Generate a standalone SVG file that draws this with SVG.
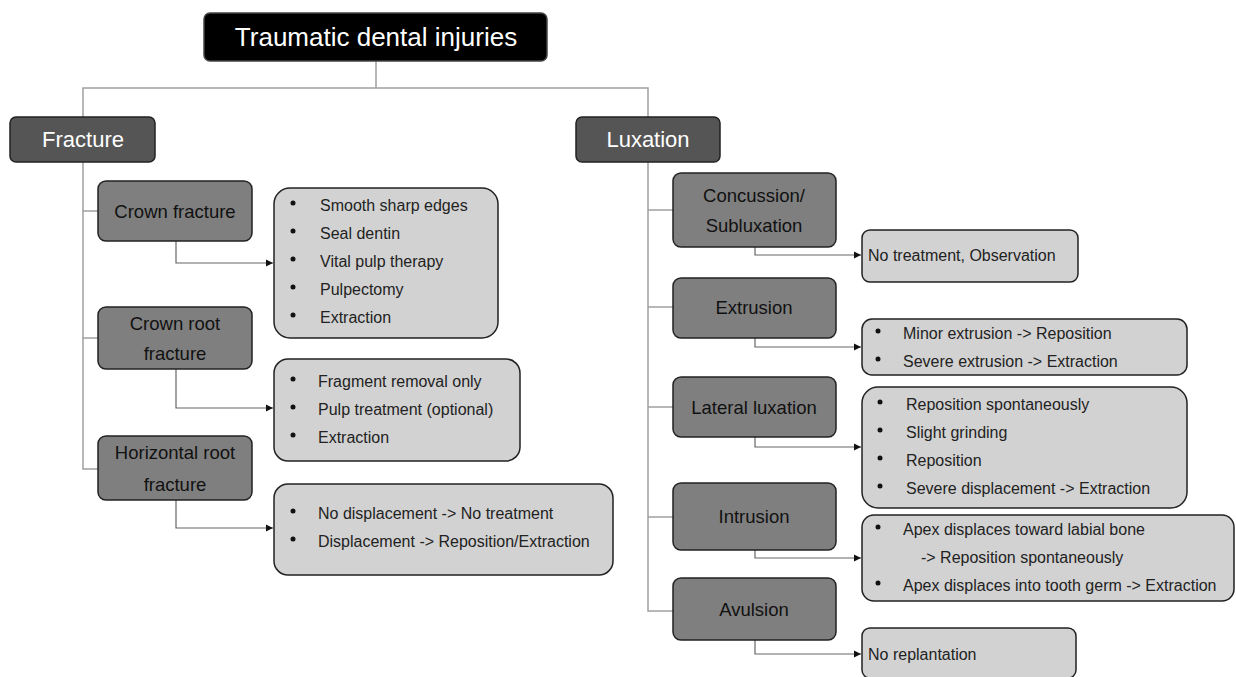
<svg xmlns="http://www.w3.org/2000/svg" width="1236" height="677" viewBox="0 0 1236 677">
<defs>
<marker id="arr" markerWidth="8" markerHeight="8" refX="7" refY="4" orient="auto" markerUnits="userSpaceOnUse">
<path d="M0,0.5 L7,4 L0,7.5 z" fill="#111"/>
</marker>
<style>
text{font-family:"Liberation Sans","DejaVu Sans",sans-serif;}
.root{fill:#000;stroke:#444;stroke-width:1.5}
.cat{fill:#555;stroke:#222;stroke-width:1.5}
.sub{fill:#7f7f7f;stroke:#222;stroke-width:1.5}
.tr{fill:#d2d2d2;stroke:#222;stroke-width:1.5}
.rt{fill:#fff;font-size:26px;text-anchor:middle}
.ct{fill:#fff;font-size:22px;text-anchor:middle}
.st{fill:#111;font-size:18.5px;text-anchor:middle}
.tt{fill:#222;font-size:16px}
.tree{fill:none;stroke:#a0a0a0;stroke-width:1.5}
.link{fill:none;stroke:#666;stroke-width:1.2;marker-end:url(#arr)}
.b{fill:#111}
</style>
</defs>
<rect width="1236" height="677" fill="#fff"/>
<g id="connectors">
<path class="tree" d="M376,61 V88 M83,117 V88 H648 V117"/>
<path class="tree" d="M83,162 V469 H98 M83,211 H98 M83,338 H98"/>
<path class="tree" d="M648,162 V611 H673 M648,210 H673 M648,307 H673 M648,407 H673 M648,517 H673"/>
<path class="link" d="M176,241 V263 H273"/>
<path class="link" d="M176,369 V408 H273"/>
<path class="link" d="M176,500 V528 H273"/>
<path class="link" d="M755,247 V255 H861"/>
<path class="link" d="M755,338 V347 H861"/>
<path class="link" d="M755,437 V447 H861"/>
<path class="link" d="M755,550 V558 H861"/>
<path class="link" d="M755,640 V654 H861"/>
</g>
<g id="root"><rect class="root" x="204" y="13" width="343" height="48" rx="6"/><text class="rt" x="376" y="46">Traumatic dental injuries</text></g>
<g id="fracture"><rect class="cat" x="10" y="117" width="145" height="45" rx="6"/><text class="ct" x="83" y="147">Fracture</text></g>
<g id="luxation"><rect class="cat" x="576" y="117" width="144" height="45" rx="6"/><text class="ct" x="648" y="147">Luxation</text></g>
<g id="crown-fracture"><rect class="sub" x="98" y="181" width="154" height="60" rx="8"/><text class="st" x="175" y="218">Crown fracture</text></g>
<g id="crown-root-fracture"><rect class="sub" x="98" y="307" width="154" height="62" rx="8"/><text class="st" x="175" y="330">Crown root</text><text class="st" x="175" y="360">fracture</text></g>
<g id="horizontal-root-fracture"><rect class="sub" x="98" y="436" width="154" height="64" rx="8"/><text class="st" x="175" y="459">Horizontal root</text><text class="st" x="175" y="491">fracture</text></g>
<g id="concussion"><rect class="sub" x="673" y="173" width="163" height="74" rx="8"/><text class="st" x="754" y="202">Concussion/</text><text class="st" x="754" y="232">Subluxation</text></g>
<g id="extrusion"><rect class="sub" x="673" y="278" width="163" height="60" rx="8"/><text class="st" x="754" y="314">Extrusion</text></g>
<g id="lateral-luxation"><rect class="sub" x="673" y="377" width="163" height="60" rx="8"/><text class="st" x="754" y="414">Lateral luxation</text></g>
<g id="intrusion"><rect class="sub" x="673" y="483" width="163" height="67" rx="8"/><text class="st" x="754" y="523">Intrusion</text></g>
<g id="avulsion"><rect class="sub" x="673" y="578" width="163" height="62" rx="8"/><text class="st" x="754" y="616">Avulsion</text></g>
<g id="t-crown-fracture"><rect class="tr" x="274" y="188" width="224" height="150" rx="16"/>
<circle class="b" cx="293" cy="203" r="2.5"/><text class="tt" x="320" y="211">Smooth sharp edges</text>
<circle class="b" cx="293" cy="231" r="2.5"/><text class="tt" x="320" y="239">Seal dentin</text>
<circle class="b" cx="293" cy="259" r="2.5"/><text class="tt" x="320" y="267">Vital pulp therapy</text>
<circle class="b" cx="293" cy="287" r="2.5"/><text class="tt" x="320" y="295">Pulpectomy</text>
<circle class="b" cx="293" cy="315" r="2.5"/><text class="tt" x="320" y="323">Extraction</text></g>
<g id="t-crown-root-fracture"><rect class="tr" x="274" y="359" width="246" height="102" rx="14"/>
<circle class="b" cx="293" cy="379" r="2.5"/><text class="tt" x="318" y="387">Fragment removal only</text>
<circle class="b" cx="293" cy="407" r="2.5"/><text class="tt" x="318" y="415">Pulp treatment (optional)</text>
<circle class="b" cx="293" cy="435" r="2.5"/><text class="tt" x="318" y="443">Extraction</text></g>
<g id="t-horizontal-root-fracture"><rect class="tr" x="274" y="484" width="339" height="91" rx="14"/>
<circle class="b" cx="293" cy="511" r="2.5"/><text class="tt" x="318" y="519">No displacement -&gt; No treatment</text>
<circle class="b" cx="293" cy="539" r="2.5"/><text class="tt" x="318" y="547">Displacement -&gt; Reposition/Extraction</text></g>
<g id="t-concussion"><rect class="tr" x="862" y="230" width="216" height="52" rx="8"/><text class="tt" x="868" y="261">No treatment, Observation</text></g>
<g id="t-extrusion"><rect class="tr" x="862" y="319" width="325" height="56" rx="10"/>
<circle class="b" cx="878" cy="331" r="2.5"/><text class="tt" x="903" y="339">Minor extrusion -&gt; Reposition</text>
<circle class="b" cx="878" cy="359" r="2.5"/><text class="tt" x="903" y="367">Severe extrusion -&gt; Extraction</text></g>
<g id="t-lateral-luxation"><rect class="tr" x="862" y="387" width="325" height="121" rx="16"/>
<circle class="b" cx="880" cy="402" r="2.5"/><text class="tt" x="906" y="410">Reposition spontaneously</text>
<circle class="b" cx="880" cy="430" r="2.5"/><text class="tt" x="906" y="438">Slight grinding</text>
<circle class="b" cx="880" cy="458" r="2.5"/><text class="tt" x="906" y="466">Reposition</text>
<circle class="b" cx="880" cy="486" r="2.5"/><text class="tt" x="906" y="494">Severe displacement -&gt; Extraction</text></g>
<g id="t-intrusion"><rect class="tr" x="862" y="515" width="372" height="86" rx="12"/>
<circle class="b" cx="878" cy="527" r="2.5"/><text class="tt" x="903" y="535">Apex displaces toward labial bone</text>
<text class="tt" x="921" y="563">-&gt; Reposition spontaneously</text>
<circle class="b" cx="878" cy="583" r="2.5"/><text class="tt" x="903" y="591">Apex displaces into tooth germ -&gt; Extraction</text></g>
<g id="t-avulsion"><rect class="tr" x="862" y="628" width="214" height="50" rx="8"/><text class="tt" x="868" y="660">No replantation</text></g>
</svg>
